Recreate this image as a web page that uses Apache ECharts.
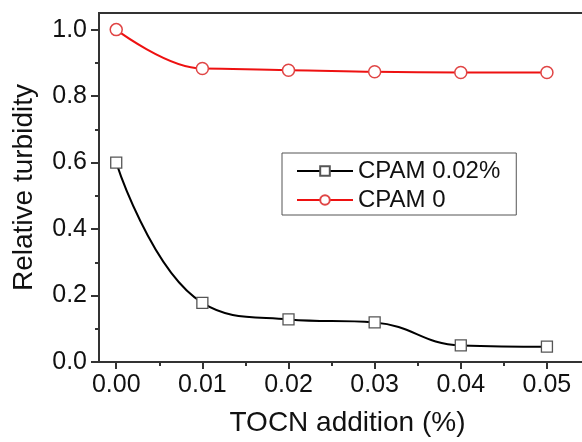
<!DOCTYPE html>
<html>
<head>
<meta charset="utf-8">
<script src="https://cdn.jsdelivr.net/npm/echarts@6/dist/echarts.min.js"></script>
<style>html,body{margin:0;padding:0;background:#fff}#c{width:582px;height:442px}</style>
</head>
<body>
<div id="c"></div>
<script>
var xValues = [0.00, 0.01, 0.02, 0.03, 0.04, 0.05];
var cpam002 = [0.600, 0.178, 0.128, 0.119, 0.050, 0.046];
var cpam0 = [1.000, 0.883, 0.878, 0.873, 0.871, 0.871];
var xTicks = [0.00, 0.01, 0.02, 0.03, 0.04, 0.05];
var xMinorTicks = [0.005, 0.015, 0.025, 0.035, 0.045];
var yTicks = [0.0, 0.2, 0.4, 0.6, 0.8, 1.0];
var yMinorTicks = [0.1, 0.3, 0.5, 0.7, 0.9];
var seriesNames = ['CPAM 0.02%', 'CPAM 0'];

var FONT = '"Liberation Sans", Arial, sans-serif';
var AX = '#333';
function pairs(xs, ys){ return xs.map(function(x,i){ return [x, ys[i]]; }); }

var chart = echarts.init(document.getElementById('c'));
chart.setOption({
  animation: false,
  backgroundColor: '#fff',
  grid: { left: 99, top: 13, width: 491, height: 349, outerBoundsMode: 'none', containLabel: false,
    show: true, borderColor: AX, borderWidth: 2, backgroundColor: 'transparent' },
  legend: {
    left: 282, top: 153, orient: 'vertical',
    padding: [6, 16, 3, 14], itemGap: 5, itemWidth: 56, itemHeight: 12,
    borderColor: '#555', borderWidth: 1,
    textStyle: { fontFamily: FONT, fontSize: 24, color: '#111', padding: [0,0,0,0] },
    data: seriesNames
  },
  xAxis: [{
    type: 'value', min: -0.002, max: 0.055, position: 'bottom',
    name: 'TOCN addition (%)', nameLocation: 'middle', nameGap: 47,
    nameTextStyle: { fontFamily: FONT, fontSize: 28, color: '#111', padding: [0, 0, 0, 6] },
    axisLine: { show: true, onZero: false, lineStyle: { color: AX, width: 2 } },
    axisTick: { show: true, length: 7, customValues: xTicks, lineStyle: { color: AX, width: 2 } },
    axisLabel: { show: true, customValues: xTicks, margin: 11, fontFamily: FONT, fontSize: 25, color: '#111',
      formatter: function(v){ return v.toFixed(2); } },
    splitLine: { show: false }
  }, {
    type: 'value', min: -0.002, max: 0.055, position: 'bottom',
    axisLine: { show: false, onZero: false },
    axisTick: { show: true, length: 4, customValues: xMinorTicks, lineStyle: { color: AX, width: 2 } },
    axisLabel: { show: false },
    splitLine: { show: false }
  }],
  yAxis: [{
    type: 'value', min: 0, max: 1.05, position: 'left',
    name: 'Relative turbidity', nameLocation: 'middle', nameGap: 61,
    nameTextStyle: { fontFamily: FONT, fontSize: 28, color: '#111' },
    axisLine: { show: true, onZero: false, lineStyle: { color: AX, width: 2 } },
    axisTick: { show: true, length: 8, customValues: yTicks, lineStyle: { color: AX, width: 2 } },
    axisLabel: { show: true, customValues: yTicks, margin: 12, fontFamily: FONT, fontSize: 25, color: '#111',
      formatter: function(v){ return v.toFixed(1); } },
    splitLine: { show: false }
  }, {
    type: 'value', min: 0, max: 1.05, position: 'left',
    axisLine: { show: false, onZero: false },
    axisTick: { show: true, length: 4, customValues: yMinorTicks, lineStyle: { color: AX, width: 2 } },
    axisLabel: { show: false },
    splitLine: { show: false }
  }],
  series: [{
    name: seriesNames[0], type: 'line', smooth: 0.45,
    data: pairs(xValues, cpam002),
    symbol: 'rect', symbolSize: 11, showAllSymbol: true,
    lineStyle: { color: '#000', width: 2 },
    itemStyle: { color: '#fff', borderColor: '#555', borderWidth: 1.3 },
    z: 3
  }, {
    name: seriesNames[1], type: 'line', smooth: 0.4, smoothMonotone: 'x',
    data: pairs(xValues, cpam0),
    symbol: 'circle', symbolSize: 12, showAllSymbol: true,
    lineStyle: { color: '#ee1111', width: 2 },
    itemStyle: { color: '#fff', borderColor: '#e04545', borderWidth: 1.5 },
    z: 3
  }]
});
</script>
</body>
</html>
